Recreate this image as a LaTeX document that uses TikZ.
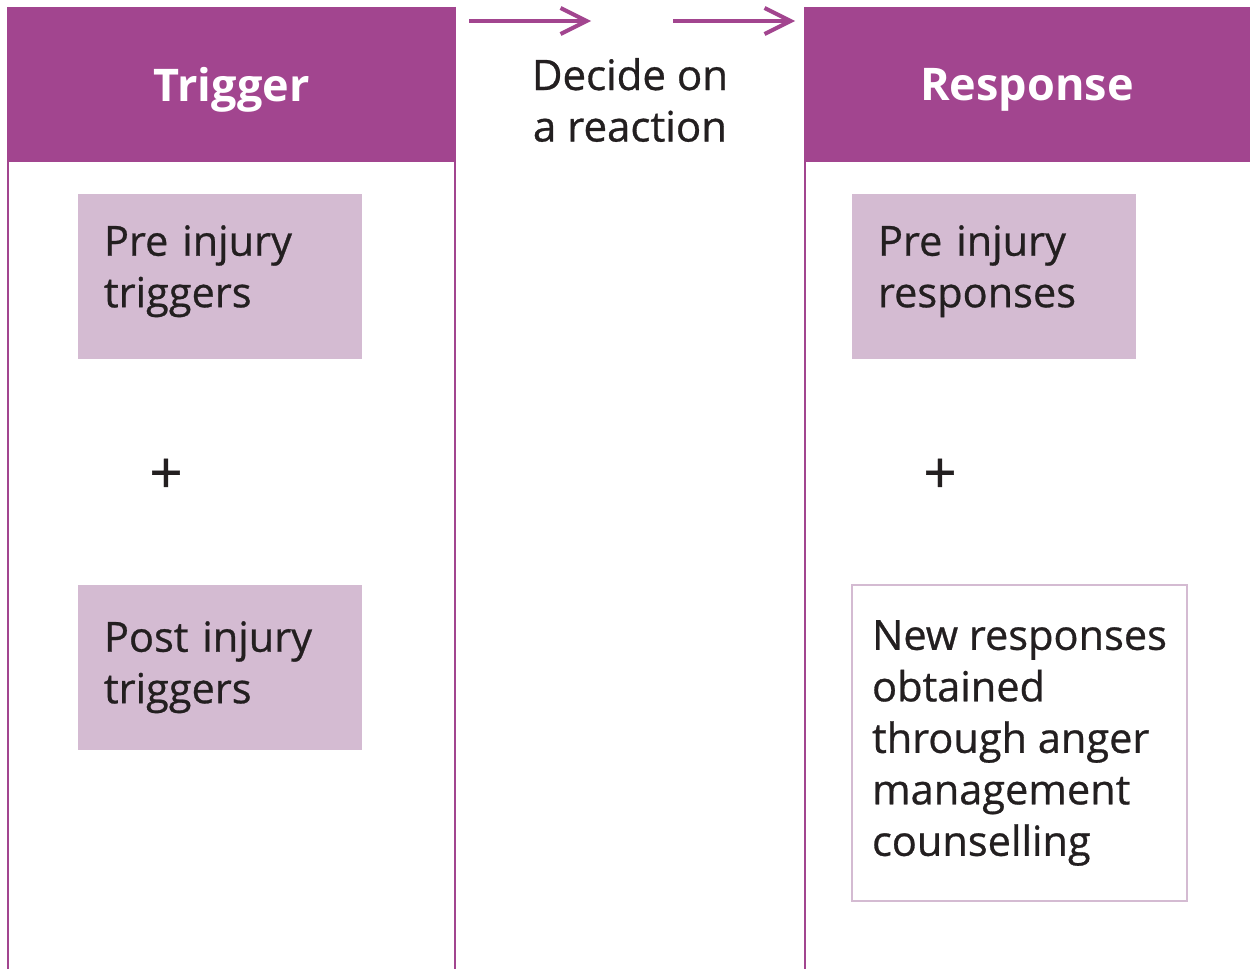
\documentclass[tikz,border=0pt]{standalone}
\usepackage{fontspec}
\setmainfont{Open Sans}[RawFeature={embolden=0.7}]
\newfontfamily\headfont{Open Sans}
\usetikzlibrary{positioning,arrows.meta}
\definecolor{plum}{HTML}{A2458F}
\definecolor{mauve}{HTML}{D4BBD2}
\definecolor{ink}{HTML}{231F20}

\tikzset{
  header/.style={fill=plum, text=white, inner sep=0pt, minimum height=155pt,
    text depth=-14pt, font=\headfont\bfseries\fontsize{45}{50}\selectfont},
  entry/.style={fill=mauve, text=ink, align=left, text width=232pt,
    inner xsep=26pt, minimum height=165pt, text depth=72pt,
    font=\fontsize{41.5}{51.5}\selectfont},
  newbox/.style={draw=mauve, line width=2pt, fill=white, text=ink, align=left,
    inner xsep=20pt, minimum width=335pt, minimum height=316pt,
    font=\fontsize{41.5}{51.5}\selectfont},
  plus/.style={text=ink, font=\fontsize{58}{58}\selectfont},
  colline/.style={plum, line width=2.5pt},
  flow/.style={plum, line width=4pt, -{Straight Barb[length=26pt,width=26pt]}}
}

\begin{document}
\begin{tikzpicture}[x=1pt, y=-1pt]
  \useasboundingbox[fill=white] (0,0) rectangle (1250,969);
  \coordinate (bottom) at (0,969);

  % Headers
  \node[header, minimum width=449pt] (trighead) at (231.5,84.5) {Trigger};
  \node[header, minimum width=446pt] (resphead) at (1027,84.5) {Response};
  \node[text=ink, align=center, font=\fontsize{42}{51.5}\selectfont] (decide) at (630,100)
    {Decide on\\a reaction};

  % Column borders
  \draw[colline] ([xshift=1pt]trighead.north west) -- ([xshift=1pt]trighead.north west |- bottom);
  \draw[colline] ([xshift=-1pt]trighead.north east) -- ([xshift=-1pt]trighead.north east |- bottom);
  \draw[colline] ([xshift=1pt]resphead.north west) -- ([xshift=1pt]resphead.north west |- bottom);

  % Left column
  \node[entry] (pretrig) at (220,276.5) {Pre injury\\triggers};
  \node[plus] (plusl) at (166,476) {+};
  \node[entry, text depth=62pt] (posttrig) at (220,667.5) {Post injury\\triggers};

  % Right column
  \node[entry] (preresp) at (994,276.5) {Pre injury\\responses};
  \node[plus] (plusr) at (940,476) {+};
  \node[newbox] (newresp) at (1019.5,743) {New responses\\obtained\\through anger\\management\\counselling};

  % Arrows
  \coordinate (a1) at (469,21);
  \coordinate (a2) at (591,21);
  \coordinate (b1) at (673,21);
  \coordinate (b2) at (795,21);
  \draw[flow] (a1) -- (a2);
  \draw[flow] (b1) -- (b2);
\end{tikzpicture}
\end{document}
